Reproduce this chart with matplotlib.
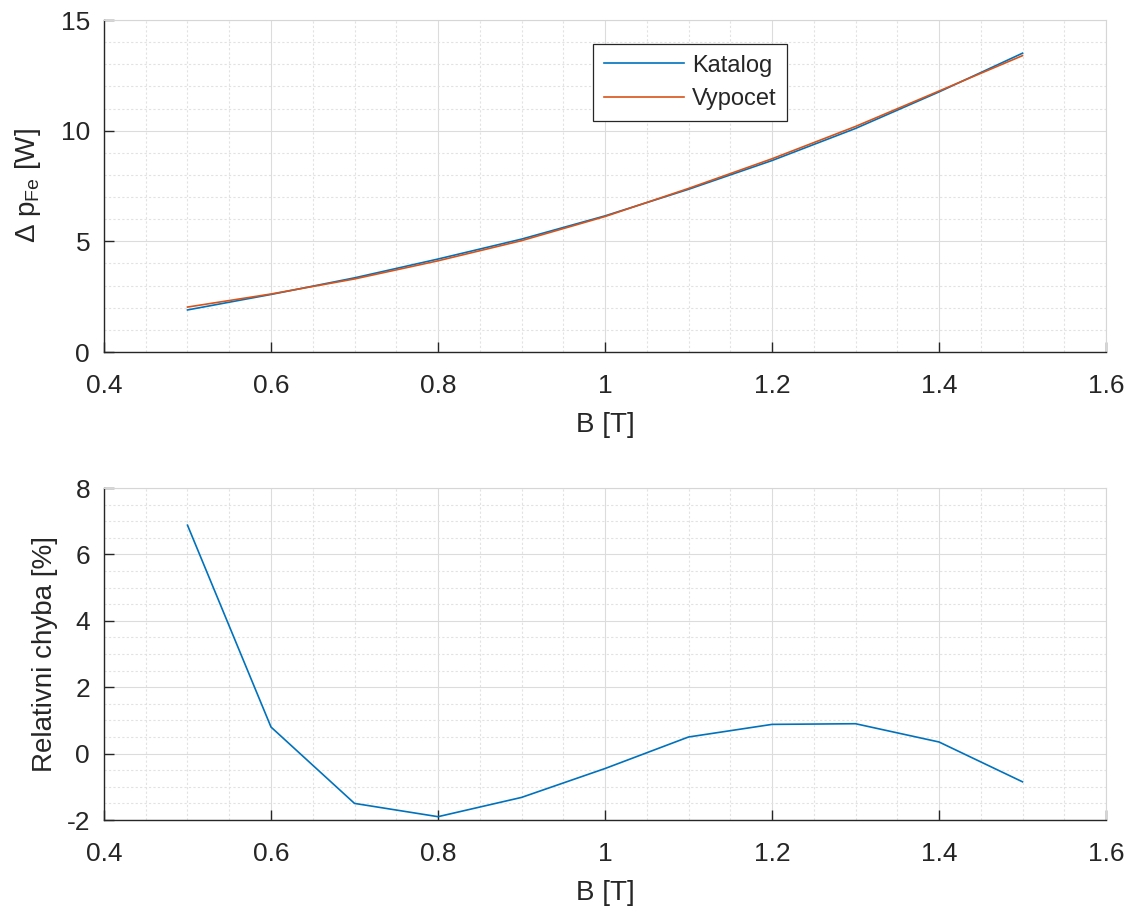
import matplotlib
matplotlib.use('Agg')
import matplotlib.pyplot as plt
from matplotlib.ticker import MultipleLocator, FuncFormatter

plt.rcParams['font.family'] = ['Liberation Sans', 'DejaVu Sans']
plt.rcParams['mathtext.fontset'] = 'custom'
plt.rcParams['mathtext.rm'] = 'Liberation Sans'
plt.rcParams['axes.unicode_minus'] = False

# Data
B = [0.5, 0.6, 0.7, 0.8, 0.9, 1.0, 1.1, 1.2, 1.3, 1.4, 1.5]
katalog = [1.90, 2.60, 3.35, 4.20, 5.10, 6.15, 7.35, 8.65, 10.10, 11.75, 13.50]
vypocet = [2.03, 2.62, 3.30, 4.12, 5.03, 6.12, 7.39, 8.73, 10.19, 11.79, 13.39]
rel_err = [6.88, 0.80, -1.50, -1.90, -1.32, -0.45, 0.50, 0.88, 0.90, 0.35, -0.85]

blue = '#0072BD'
orange = '#D95319'
dark = '#262626'
W, H = 1129, 906
fig = plt.figure(figsize=(W / 100, H / 100), dpi=100)


def style(ax, ymaj, ymin):
    ax.set_xlim(0.4, 1.6)
    ax.xaxis.set_major_locator(MultipleLocator(0.2))
    ax.xaxis.set_minor_locator(MultipleLocator(0.05))
    ax.yaxis.set_major_locator(MultipleLocator(ymaj))
    ax.yaxis.set_minor_locator(MultipleLocator(ymin))
    fmt = FuncFormatter(lambda v, p: '%g' % round(v, 6))
    ax.xaxis.set_major_formatter(fmt)
    ax.yaxis.set_major_formatter(fmt)
    ax.grid(which='major', color='#dcdcdc', linewidth=0.8, linestyle='-')
    ax.grid(which='minor', color='#e2e2e2', linewidth=0.8, linestyle=(0, (2, 2)))
    ax.set_axisbelow(True)
    ax.tick_params(which='both', direction='in', top=False, right=False,
                   labelsize=19, colors=dark)
    ax.tick_params(which='major', length=7, width=1)
    ax.tick_params(which='minor', length=0)
    ax.tick_params(axis='x', pad=16)
    ax.tick_params(axis='y', pad=10)
    for s in ['left', 'bottom']:
        ax.spines[s].set_color(dark)
        ax.spines[s].set_linewidth(1)
    for s in ['top', 'right']:
        ax.spines[s].set_color('#d6d6d6')
        ax.spines[s].set_linewidth(0.8)


ax1 = fig.add_axes([104 / W, 1 - 352 / H, 1002 / W, 332 / H])
ax1.plot(B, katalog, color=blue, linewidth=1.2, label='Katalog')
ax1.plot(B, vypocet, color=orange, linewidth=1.2, label='Vypocet')
ax1.set_ylim(0, 15)
style(ax1, 5, 1)
ax1.set_xlabel('B [T]', fontsize=20, color=dark, labelpad=10)
ax1.set_ylabel(r'Δ p$_{\mathrm{Fe}}$ [W]', fontsize=20, color=dark, labelpad=13)
leg = ax1.legend(loc='upper left', bbox_to_anchor=((593 - 104) / 1002, 1 - (44 - 20) / 332),
                 borderaxespad=0, fontsize=17, frameon=True, fancybox=False,
                 framealpha=1, edgecolor=dark, handlelength=3.4,
                 handletextpad=0.35, borderpad=0.45, labelspacing=0.5)
leg.get_frame().set_linewidth(0.9)
for t in leg.get_texts():
    t.set_color(dark)

ax2 = fig.add_axes([104 / W, 1 - 820 / H, 1002 / W, 332 / H])
ax2.plot(B, rel_err, color=blue, linewidth=1.2)
ax2.set_ylim(-2, 8)
style(ax2, 2, 0.5)
ax2.set_xlabel('B [T]', fontsize=20, color=dark, labelpad=10)
ax2.set_ylabel('Relativni chyba [%]', fontsize=20, color=dark, labelpad=6)

fig.savefig('out.png', dpi=100, facecolor='white')
